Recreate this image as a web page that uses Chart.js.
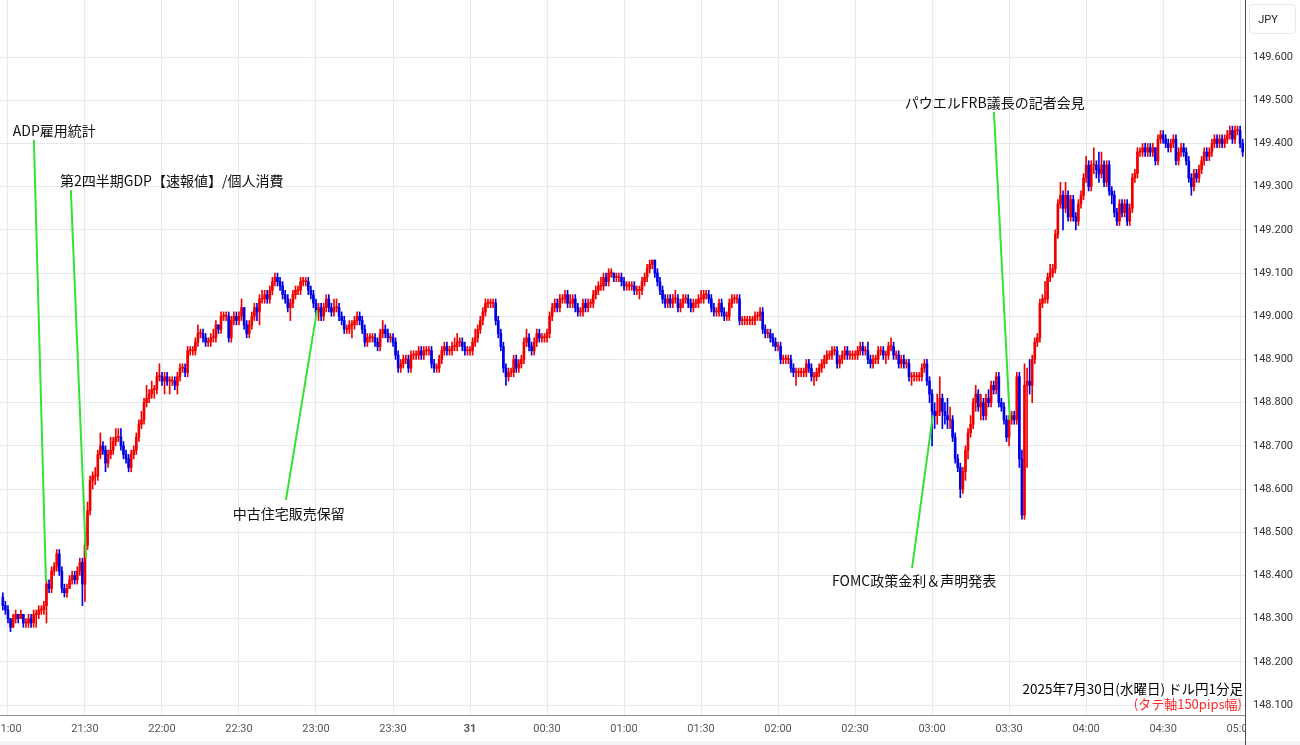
<!DOCTYPE html>
<html lang="ja">
<head>
<meta charset="utf-8">
<title>ドル円1分足 2025年7月30日</title>
<script src="https://cdn.jsdelivr.net/npm/chart.js@4.4.1/dist/chart.umd.min.js"></script>
<style>
  html, body { margin: 0; padding: 0; background: #fff; }
  #wrap { width: 1300px; height: 745px; }
</style>
</head>
<body>
<div id="wrap"><canvas id="chart" width="1300" height="745"></canvas></div>
<script>
// =======================================
// USD/JPY 1-minute candles, 2025-07-30 21:00 - 31st 05:00
// Candles drawn as floating bars (wick + body).
// =======================================

// ----- Data -----
// x = minutes after 21:00, first candle two minutes before.
const START_MINUTE = -2;
const FIRST_OPEN = 148.35;

const closes = [
  148.33, 148.32, 148.30, 148.28, 148.30, 148.31, 148.30, 148.31, 148.29, 148.29,
  148.30, 148.29, 148.31, 148.31, 148.32, 148.32, 148.33, 148.38, 148.37, 148.41,
  148.42, 148.45, 148.41, 148.37, 148.36, 148.37, 148.39, 148.40, 148.39, 148.41,
  148.43, 148.38, 148.47, 148.55, 148.62, 148.63, 148.63, 148.68, 148.70, 148.69,
  148.66, 148.68, 148.69, 148.71, 148.72, 148.72, 148.70, 148.68, 148.67, 148.65,
  148.68, 148.69, 148.72, 148.75, 148.76, 148.80, 148.81, 148.82, 148.83, 148.83,
  148.86, 148.86, 148.85, 148.86, 148.85, 148.85, 148.85, 148.84, 148.86, 148.88,
  148.88, 148.87, 148.92, 148.92, 148.92, 148.94, 148.96, 148.96, 148.95, 148.94,
  148.94, 148.95, 148.95, 148.98, 148.97, 149.00, 149.00, 149.00, 148.95, 148.99,
  149.00, 148.99, 149.00, 149.02, 148.98, 148.96, 148.98, 149.00, 149.02, 149.01,
  149.04, 149.04, 149.05, 149.04, 149.06, 149.08, 149.09, 149.08, 149.07, 149.05,
  149.04, 149.02, 149.03, 149.05, 149.06, 149.06, 149.08, 149.08, 149.08, 149.06,
  149.05, 149.03, 149.01, 149.02, 149.00, 149.02, 149.04, 149.02, 149.01, 149.02,
  149.02, 149.00, 148.99, 148.97, 148.97, 148.98, 148.98, 148.99, 149.00, 148.99,
  148.97, 148.94, 148.95, 148.95, 148.95, 148.94, 148.93, 148.96, 148.97, 148.96,
  148.95, 148.95, 148.94, 148.91, 148.88, 148.89, 148.90, 148.90, 148.88, 148.91,
  148.91, 148.91, 148.92, 148.91, 148.92, 148.92, 148.92, 148.89, 148.88, 148.88,
  148.90, 148.92, 148.93, 148.92, 148.92, 148.93, 148.93, 148.94, 148.94, 148.93,
  148.92, 148.92, 148.92, 148.94, 148.95, 148.97, 148.99, 149.01, 149.03, 149.03,
  149.03, 149.03, 148.99, 148.96, 148.93, 148.88, 148.86, 148.87, 148.87, 148.90,
  148.88, 148.89, 148.90, 148.94, 148.95, 148.93, 148.92, 148.94, 148.96, 148.95,
  148.95, 148.95, 148.96, 149.00, 149.02, 149.03, 149.02, 149.04, 149.04, 149.05,
  149.03, 149.03, 149.04, 149.02, 149.01, 149.01, 149.03, 149.02, 149.03, 149.03,
  149.05, 149.06, 149.07, 149.07, 149.09, 149.08, 149.10, 149.10, 149.09, 149.09,
  149.09, 149.08, 149.07, 149.07, 149.07, 149.07, 149.06, 149.06, 149.06, 149.08,
  149.09, 149.11, 149.12, 149.13, 149.10, 149.08, 149.06, 149.04, 149.03, 149.04,
  149.03, 149.04, 149.04, 149.02, 149.03, 149.04, 149.04, 149.03, 149.02, 149.03,
  149.03, 149.04, 149.04, 149.05, 149.05, 149.04, 149.02, 149.01, 149.01, 149.03,
  149.01, 149.00, 149.00, 149.03, 149.04, 149.04, 149.04, 148.99, 148.99, 148.99,
  148.99, 148.99, 148.99, 149.00, 149.00, 149.01, 148.97, 148.96, 148.96, 148.95,
  148.94, 148.93, 148.93, 148.90, 148.90, 148.90, 148.90, 148.88, 148.87, 148.87,
  148.87, 148.87, 148.87, 148.89, 148.88, 148.86, 148.86, 148.87, 148.88, 148.89,
  148.90, 148.91, 148.91, 148.92, 148.92, 148.89, 148.90, 148.91, 148.92, 148.91,
  148.91, 148.91, 148.91, 148.92, 148.93, 148.92, 148.92, 148.90, 148.89, 148.90,
  148.90, 148.92, 148.92, 148.91, 148.91, 148.93, 148.93, 148.91, 148.91, 148.89,
  148.90, 148.89, 148.89, 148.86, 148.86, 148.86, 148.86, 148.86, 148.88, 148.89,
  148.85, 148.82, 148.78, 148.77, 148.78, 148.81, 148.78, 148.77, 148.76, 148.76,
  148.72, 148.67, 148.65, 148.60, 148.64, 148.69, 148.73, 148.75, 148.80, 148.82,
  148.79, 148.80, 148.77, 148.81, 148.80, 148.84, 148.83, 148.86, 148.80, 148.79,
  148.76, 148.72, 148.76, 148.77, 148.76, 148.86, 148.67, 148.54, 148.84, 148.85,
  148.84, 148.90, 148.94, 148.95, 149.03, 149.04, 149.04, 149.09, 149.10, 149.11,
  149.19, 149.26, 149.28, 149.25, 149.28, 149.23, 149.27, 149.23, 149.22, 149.26,
  149.28, 149.32, 149.35, 149.30, 149.35, 149.35, 149.34, 149.33, 149.35, 149.31,
  149.35, 149.29, 149.28, 149.24, 149.22, 149.26, 149.24, 149.26, 149.22, 149.25,
  149.32, 149.33, 149.38, 149.38, 149.39, 149.38, 149.39, 149.38, 149.39, 149.36,
  149.41, 149.42, 149.41, 149.40, 149.39, 149.40, 149.41, 149.36, 149.38, 149.39,
  149.38, 149.36, 149.32, 149.30, 149.33, 149.32, 149.34, 149.36, 149.38, 149.37,
  149.38, 149.40, 149.41, 149.40, 149.41, 149.40, 149.41, 149.42, 149.43, 149.41,
  149.43, 149.43, 149.40, 149.38,
];

const highs = [
  148.36, 148.34, 148.33, 148.30, 148.31, 148.32, 148.31, 148.32, 148.31, 148.30,
  148.31, 148.31, 148.32, 148.32, 148.33, 148.33, 148.34, 148.39, 148.39, 148.42,
  148.43, 148.46, 148.46, 148.42, 148.38, 148.38, 148.40, 148.41, 148.41, 148.42,
  148.44, 148.44, 148.48, 148.57, 148.63, 148.64, 148.65, 148.69, 148.73, 148.71,
  148.70, 148.69, 148.72, 148.72, 148.74, 148.74, 148.74, 148.71, 148.69, 148.68,
  148.69, 148.70, 148.73, 148.76, 148.78, 148.81, 148.84, 148.83, 148.85, 148.84,
  148.87, 148.89, 148.87, 148.87, 148.87, 148.86, 148.86, 148.86, 148.87, 148.89,
  148.89, 148.89, 148.93, 148.93, 148.93, 148.95, 148.98, 148.97, 148.97, 148.96,
  148.95, 148.96, 148.97, 148.99, 148.98, 149.01, 149.01, 149.01, 149.01, 149.00,
  149.01, 149.01, 149.01, 149.04, 149.02, 148.99, 148.99, 149.01, 149.03, 149.03,
  149.05, 149.06, 149.06, 149.06, 149.07, 149.09, 149.10, 149.10, 149.09, 149.08,
  149.06, 149.05, 149.04, 149.06, 149.07, 149.07, 149.09, 149.09, 149.09, 149.09,
  149.07, 149.06, 149.04, 149.03, 149.03, 149.03, 149.05, 149.05, 149.03, 149.04,
  149.04, 149.03, 149.01, 149.00, 148.98, 148.99, 148.99, 149.00, 149.01, 149.01,
  149.00, 148.98, 148.96, 148.96, 148.96, 148.96, 148.95, 148.97, 148.99, 148.98,
  148.97, 148.96, 148.96, 148.95, 148.92, 148.90, 148.91, 148.91, 148.91, 148.92,
  148.92, 148.92, 148.93, 148.93, 148.93, 148.93, 148.93, 148.93, 148.90, 148.89,
  148.91, 148.93, 148.94, 148.94, 148.93, 148.94, 148.95, 148.96, 148.95, 148.95,
  148.94, 148.93, 148.93, 148.95, 148.97, 148.98, 149.00, 149.02, 149.04, 149.04,
  149.04, 149.04, 149.04, 149.00, 148.97, 148.94, 148.89, 148.88, 148.88, 148.91,
  148.91, 148.90, 148.91, 148.95, 148.97, 148.96, 148.94, 148.95, 148.97, 148.97,
  148.96, 148.96, 148.97, 149.01, 149.03, 149.04, 149.04, 149.05, 149.05, 149.06,
  149.06, 149.05, 149.05, 149.05, 149.03, 149.02, 149.04, 149.04, 149.04, 149.04,
  149.06, 149.07, 149.08, 149.09, 149.10, 149.10, 149.11, 149.11, 149.10, 149.10,
  149.10, 149.10, 149.09, 149.08, 149.08, 149.08, 149.08, 149.07, 149.07, 149.09,
  149.10, 149.12, 149.13, 149.13, 149.13, 149.11, 149.09, 149.07, 149.05, 149.05,
  149.05, 149.05, 149.06, 149.05, 149.04, 149.05, 149.05, 149.05, 149.04, 149.04,
  149.04, 149.05, 149.06, 149.06, 149.06, 149.06, 149.05, 149.03, 149.02, 149.04,
  149.04, 149.02, 149.01, 149.04, 149.05, 149.05, 149.05, 149.05, 149.00, 149.00,
  149.00, 149.00, 149.00, 149.01, 149.01, 149.02, 149.02, 148.98, 148.97, 148.97,
  148.96, 148.95, 148.94, 148.94, 148.91, 148.91, 148.91, 148.91, 148.89, 148.88,
  148.88, 148.88, 148.88, 148.90, 148.90, 148.89, 148.87, 148.88, 148.89, 148.90,
  148.91, 148.92, 148.92, 148.93, 148.93, 148.93, 148.91, 148.92, 148.93, 148.93,
  148.92, 148.92, 148.92, 148.93, 148.94, 148.94, 148.93, 148.94, 148.91, 148.91,
  148.91, 148.93, 148.93, 148.93, 148.92, 148.94, 148.95, 148.94, 148.92, 148.92,
  148.91, 148.91, 148.90, 148.90, 148.87, 148.87, 148.87, 148.87, 148.89, 148.90,
  148.90, 148.86, 148.83, 148.80, 148.82, 148.86, 148.82, 148.80, 148.81, 148.79,
  148.77, 148.73, 148.68, 148.66, 148.65, 148.70, 148.74, 148.77, 148.81, 148.84,
  148.83, 148.82, 148.81, 148.82, 148.83, 148.85, 148.85, 148.87, 148.87, 148.81,
  148.80, 148.77, 148.77, 148.78, 148.78, 148.87, 148.87, 148.69, 148.89, 148.88,
  148.90, 148.91, 148.95, 148.96, 149.04, 149.05, 149.08, 149.10, 149.12, 149.12,
  149.20, 149.27, 149.31, 149.29, 149.31, 149.29, 149.28, 149.28, 149.24, 149.27,
  149.29, 149.33, 149.37, 149.36, 149.36, 149.39, 149.36, 149.38, 149.38, 149.36,
  149.36, 149.36, 149.30, 149.29, 149.25, 149.27, 149.27, 149.27, 149.27, 149.26,
  149.33, 149.34, 149.39, 149.39, 149.40, 149.40, 149.40, 149.40, 149.40, 149.39,
  149.42, 149.43, 149.43, 149.42, 149.41, 149.41, 149.42, 149.42, 149.39, 149.40,
  149.40, 149.39, 149.37, 149.33, 149.34, 149.34, 149.35, 149.37, 149.39, 149.39,
  149.39, 149.41, 149.42, 149.42, 149.42, 149.42, 149.42, 149.43, 149.44, 149.44,
  149.44, 149.44, 149.44, 149.41,
];

const lows = [
  148.32, 148.31, 148.29, 148.27, 148.28, 148.29, 148.29, 148.30, 148.28, 148.28,
  148.28, 148.28, 148.28, 148.28, 148.30, 148.31, 148.31, 148.29, 148.36, 148.36,
  148.40, 148.41, 148.40, 148.36, 148.35, 148.35, 148.37, 148.38, 148.38, 148.38,
  148.40, 148.33, 148.34, 148.46, 148.54, 148.60, 148.61, 148.62, 148.67, 148.68,
  148.64, 148.65, 148.67, 148.68, 148.70, 148.71, 148.69, 148.67, 148.66, 148.64,
  148.64, 148.67, 148.68, 148.71, 148.74, 148.75, 148.79, 148.80, 148.81, 148.81,
  148.82, 148.85, 148.84, 148.82, 148.84, 148.82, 148.84, 148.83, 148.82, 148.85,
  148.87, 148.86, 148.86, 148.91, 148.91, 148.91, 148.93, 148.95, 148.94, 148.93,
  148.93, 148.93, 148.94, 148.94, 148.96, 148.96, 148.99, 148.99, 148.94, 148.94,
  148.98, 148.98, 148.98, 148.99, 148.97, 148.95, 148.95, 148.97, 148.99, 148.99,
  148.98, 149.03, 149.03, 149.03, 149.03, 149.05, 149.07, 149.07, 149.06, 149.04,
  149.03, 149.01, 148.99, 149.02, 149.04, 149.05, 149.05, 149.07, 149.07, 149.05,
  149.04, 149.02, 149.00, 148.99, 148.99, 148.99, 149.01, 149.01, 149.00, 149.00,
  149.01, 148.99, 148.98, 148.96, 148.96, 148.96, 148.95, 148.97, 148.98, 148.98,
  148.96, 148.93, 148.93, 148.94, 148.94, 148.93, 148.92, 148.92, 148.95, 148.95,
  148.94, 148.94, 148.93, 148.90, 148.87, 148.87, 148.88, 148.89, 148.87, 148.87,
  148.90, 148.90, 148.90, 148.90, 148.90, 148.91, 148.91, 148.88, 148.87, 148.87,
  148.87, 148.89, 148.91, 148.91, 148.91, 148.91, 148.92, 148.92, 148.93, 148.92,
  148.91, 148.91, 148.91, 148.91, 148.93, 148.94, 148.96, 148.98, 149.00, 149.02,
  149.02, 149.02, 148.98, 148.95, 148.92, 148.87, 148.84, 148.85, 148.86, 148.86,
  148.87, 148.87, 148.88, 148.89, 148.93, 148.92, 148.91, 148.91, 148.93, 148.94,
  148.94, 148.94, 148.94, 148.95, 148.99, 149.01, 149.01, 149.01, 149.03, 149.03,
  149.02, 149.02, 149.02, 149.01, 149.00, 149.00, 149.00, 149.01, 149.01, 149.02,
  149.02, 149.04, 149.05, 149.06, 149.06, 149.07, 149.07, 149.09, 149.08, 149.08,
  149.08, 149.07, 149.06, 149.06, 149.06, 149.06, 149.05, 149.05, 149.04, 149.05,
  149.07, 149.08, 149.10, 149.11, 149.09, 149.07, 149.05, 149.03, 149.02, 149.02,
  149.02, 149.02, 149.03, 149.01, 149.01, 149.02, 149.03, 149.02, 149.01, 149.01,
  149.02, 149.02, 149.03, 149.03, 149.04, 149.03, 149.01, 149.00, 149.00, 149.00,
  149.00, 148.99, 148.99, 148.99, 149.02, 149.03, 149.03, 148.98, 148.98, 148.98,
  148.98, 148.98, 148.98, 148.98, 148.99, 148.99, 148.96, 148.95, 148.95, 148.94,
  148.93, 148.92, 148.92, 148.89, 148.89, 148.89, 148.89, 148.87, 148.86, 148.84,
  148.86, 148.86, 148.86, 148.86, 148.87, 148.85, 148.84, 148.85, 148.86, 148.87,
  148.88, 148.89, 148.90, 148.90, 148.91, 148.88, 148.88, 148.89, 148.90, 148.90,
  148.90, 148.90, 148.90, 148.90, 148.91, 148.91, 148.91, 148.89, 148.88, 148.88,
  148.89, 148.89, 148.91, 148.90, 148.89, 148.90, 148.92, 148.90, 148.90, 148.88,
  148.88, 148.88, 148.88, 148.85, 148.84, 148.85, 148.85, 148.85, 148.85, 148.87,
  148.84, 148.80, 148.70, 148.74, 148.75, 148.77, 148.74, 148.75, 148.74, 148.74,
  148.71, 148.66, 148.64, 148.58, 148.59, 148.62, 148.67, 148.72, 148.74, 148.78,
  148.78, 148.76, 148.76, 148.76, 148.79, 148.79, 148.82, 148.82, 148.79, 148.78,
  148.75, 148.71, 148.70, 148.75, 148.75, 148.75, 148.65, 148.53, 148.53, 148.65,
  148.82, 148.80, 148.89, 148.93, 148.94, 149.02, 149.03, 149.03, 149.08, 149.09,
  149.10, 149.18, 149.25, 149.20, 149.24, 149.22, 149.22, 149.22, 149.20, 149.21,
  149.25, 149.27, 149.31, 149.29, 149.29, 149.33, 149.32, 149.31, 149.32, 149.30,
  149.30, 149.28, 149.26, 149.23, 149.21, 149.21, 149.23, 149.23, 149.21, 149.21,
  149.24, 149.31, 149.32, 149.37, 149.37, 149.37, 149.37, 149.37, 149.37, 149.35,
  149.35, 149.40, 149.40, 149.39, 149.38, 149.38, 149.39, 149.35, 149.35, 149.37,
  149.37, 149.35, 149.31, 149.28, 149.29, 149.31, 149.31, 149.33, 149.35, 149.36,
  149.36, 149.37, 149.39, 149.39, 149.39, 149.39, 149.39, 149.40, 149.41, 149.40,
  149.40, 149.42, 149.39, 149.37,
];

const xTickMinutes = [0, 30, 60, 90, 120, 150, 180, 210, 240, 270, 300, 330, 360, 390, 420, 450, 480];
const xTickLabels = ['21:00', '21:30', '22:00', '22:30', '23:00', '23:30', '31', '00:30', '01:00',
                     '01:30', '02:00', '02:30', '03:00', '03:30', '04:00', '04:30', '05:00'];
const yTicks = [148.1, 148.2, 148.3, 148.4, 148.5, 148.6, 148.7, 148.8, 148.9,
                149.0, 149.1, 149.2, 149.3, 149.4, 149.5, 149.6];

// Event notes: text anchor [minute, price], leader line from -> to.
const events = [
  { text: 'ADP雇用統計',                  at: [1.9, 149.429],   from: [10.1, 149.408],  to: [14.8, 148.385] },
  { text: '第2四半期GDP【速報値】/個人消費', at: [20.3, 149.313],  from: [24.5, 149.292],  to: [30.4, 148.440] },
  { text: '中古住宅販売保留',               at: [87.6, 148.542],  from: [108.3, 148.575], to: [120.4, 149.014] },
  { text: 'FOMC政策金利＆声明発表',          at: [321.0, 148.387], from: [352.2, 148.417], to: [360.3, 148.771] },
  { text: 'パウエルFRB議長の記者会見',        at: [349.4, 149.494], from: [384.1, 149.473], to: [390.3, 148.760] },
];

const TITLE = '2025年7月30日(水曜日) ドル円1分足';
const SUBTITLE = '(タテ軸150pips幅)';

// ----- Derived candle parts -----
const opens = closes.map((c, i) => (i === 0 ? FIRST_OPEN : closes[i - 1]));
const minutes = closes.map((_, i) => START_MINUTE + i);

const UP = '#f20000';
const DOWN = '#0000e6';
const candleColors = closes.map((c, i) => (c >= opens[i] ? UP : DOWN));

const bodyData = minutes.map((m, i) => ({ x: m, y: [opens[i], closes[i]] }));
const wickData = minutes.map((m, i) => ({ x: m, y: [lows[i], highs[i]] }));

const FONT = "'Noto Sans CJK JP', 'Noto Sans', sans-serif";

// ----- Overlay: separators, JPY box, event notes, caption -----
const overlayPlugin = {
  id: 'overlay',
  beforeDraw(chart) {
    const { ctx } = chart;
    ctx.save();
    ctx.fillStyle = '#ffffff';
    ctx.fillRect(0, 0, chart.width, chart.height);
    ctx.fillStyle = '#f1f3f6';
    ctx.fillRect(0, chart.height - 4, chart.width, 4);
    ctx.restore();
  },
  afterDraw(chart) {
    const { ctx, chartArea, scales: { x, y } } = chart;
    ctx.save();

    // time labels are cut off at the price axis
    const rx = Math.round(chartArea.right) + 0.5;
    ctx.fillStyle = '#ffffff';
    ctx.fillRect(rx, chartArea.bottom + 1, chart.width - rx, chart.height - chartArea.bottom - 5);

    // right price-axis separator (runs through the time axis too)
    ctx.strokeStyle = '#4d4d4d';
    ctx.lineWidth = 1;
    ctx.beginPath();
    ctx.moveTo(rx, 0);
    ctx.lineTo(rx, chart.height);
    ctx.stroke();

    // currency badge
    ctx.strokeStyle = '#e3e6ea';
    ctx.fillStyle = '#ffffff';
    ctx.beginPath();
    if (ctx.roundRect) ctx.roundRect(1249.5, 4.5, 46, 29, 4);
    else ctx.rect(1249.5, 4.5, 46, 29);
    ctx.fill();
    ctx.stroke();
    ctx.fillStyle = '#222';
    ctx.font = `11px Roboto, ${FONT}`;
    ctx.textAlign = 'center';
    ctx.textBaseline = 'middle';
    ctx.fillText('JPY', 1268, 20);

    // event leader lines
    ctx.strokeStyle = '#33e333';
    ctx.lineWidth = 2;
    events.forEach(ev => {
      ctx.beginPath();
      ctx.moveTo(x.getPixelForValue(ev.from[0]), y.getPixelForValue(ev.from[1]));
      ctx.lineTo(x.getPixelForValue(ev.to[0]), y.getPixelForValue(ev.to[1]));
      ctx.stroke();
    });

    // event labels
    ctx.fillStyle = '#111';
    ctx.font = `14px ${FONT}`;
    ctx.textAlign = 'left';
    ctx.textBaseline = 'middle';
    events.forEach(ev => {
      ctx.fillText(ev.text, x.getPixelForValue(ev.at[0]), y.getPixelForValue(ev.at[1]));
    });

    // caption, bottom right of plot
    ctx.textAlign = 'right';
    ctx.fillStyle = '#000';
    ctx.font = `13.5px ${FONT}`;
    ctx.fillText(TITLE, chartArea.right - 2, 689);
    ctx.fillStyle = '#ff2a2a';
    ctx.font = `13px ${FONT}`;
    ctx.fillText(SUBTITLE, chartArea.right - 3, 704);

    ctx.restore();
  },
};

// ----- Chart -----
new Chart(document.getElementById('chart'), {
  type: 'bar',
  data: {
    datasets: [
      {
        label: 'body',
        data: bodyData,
        backgroundColor: candleColors,
        borderWidth: 0,
        barThickness: 2,
        minBarLength: 1,
        grouped: false,
        order: 0,
      },
      {
        label: 'wick',
        data: wickData,
        backgroundColor: candleColors,
        borderWidth: 0,
        barThickness: 1,
        grouped: false,
        order: 1,
      },
    ],
  },
  options: {
    responsive: false,
    animation: false,
    events: [],
    layout: { padding: 0, autoPadding: false },
    plugins: {
      legend: { display: false },
      tooltip: { enabled: false },
    },
    scales: {
      x: {
        type: 'linear',
        min: -3.1,
        max: 481.9,
        offset: false,
        afterBuildTicks: s => { s.ticks = xTickMinutes.map(v => ({ value: v })); },
        afterFit: s => { s.height = 30; s.paddingLeft = 0; s.paddingRight = 0; },
        ticks: {
          autoSkip: false,
          maxRotation: 0,
          padding: 8,
          color: '#555',
          font: ctx => ({
            family: `Roboto, ${FONT}`,
            size: 11,
            weight: ctx.tick && ctx.tick.label === '31' ? 'bold' : 'normal',
          }),
          callback: v => xTickLabels[xTickMinutes.indexOf(v)],
        },
        grid: { color: '#e5eaef', drawTicks: false, offset: false },
        border: { color: '#8c8c8c', width: 1 },
      },
      y: {
        type: 'linear',
        position: 'right',
        min: 148.077,
        max: 149.732,
        afterBuildTicks: s => { s.ticks = yTicks.map(v => ({ value: v })); },
        afterFit: s => { s.width = 55; s.paddingTop = 0; s.paddingBottom = 0; },
        ticks: {
          padding: 8,
          color: '#333',
          font: { family: `Roboto, ${FONT}`, size: 11 },
          callback: v => v.toFixed(3),
        },
        grid: { color: '#e5eaef', drawTicks: false },
        border: { display: false },
      },
    },
  },
  plugins: [overlayPlugin],
});
</script>
</body>
</html>
